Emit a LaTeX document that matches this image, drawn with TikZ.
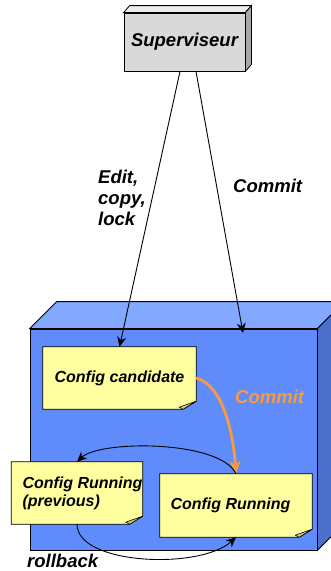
\documentclass[tikz,border=0pt]{standalone}
\usepackage{fontspec}
\setmainfont{Liberation Sans}
\usetikzlibrary{arrows.meta,backgrounds}
\definecolor{boxfront}{RGB}{96,139,250}
\definecolor{boxtop}{RGB}{130,168,255}
\definecolor{boxside}{RGB}{77,112,204}
\definecolor{notefill}{RGB}{255,255,160}
\definecolor{foldfill}{RGB}{214,206,130}
\definecolor{supfront}{RGB}{217,217,217}
\definecolor{suptop}{RGB}{236,236,236}
\definecolor{supside}{RGB}{168,168,168}
\definecolor{orangec}{RGB}{248,155,60}
\newcommand\drawnote[1]{%
  \filldraw[fill=notefill, line width=0.8pt] (#1.north west) -- (#1.north east) -- ([yshift=8pt]#1.south east) -- ([xshift=-13pt]#1.south east) -- (#1.south west) -- cycle;
  \filldraw[fill=foldfill, line width=0.6pt, line join=round] ([yshift=8pt]#1.south east) -- ([xshift=-13pt]#1.south east) -- ([xshift=-17pt,yshift=2pt]#1.south east) -- cycle;}
\begin{document}
\begin{tikzpicture}[x=1pt,y=-1pt,
  lbl/.style={font=\fontsize{18.5}{21}\selectfont\bfseries\itshape, inner sep=0pt},
  notetxt/.style={font=\fontsize{16}{18}\selectfont\bfseries\itshape, inner sep=0pt},
  arr/.style={-{Stealth[length=10pt,width=9pt]}, line width=0.9pt},
  orangearr/.style={-{Stealth[length=13pt,width=11pt]}, line width=2.8pt, draw=orangec},
  supbox/.style={lbl, minimum width=121pt, minimum height=58pt, fill=supfront, draw, line width=0.8pt},
  devbox/.style={minimum width=287pt, minimum height=221pt, fill=boxfront, draw, line width=0.8pt},
  notebox/.style={notetxt, minimum height=62pt}]
\useasboundingbox (0,0) rectangle (331,571);
% supervisor
\node[supbox] (sup) at (184.5,42) {Superviseur};
\filldraw[fill=suptop, line width=0.8pt] (sup.north west) -- ++(6,-7) -- ([shift={(6,-7)}]sup.north east) -- (sup.north east) -- cycle;
\filldraw[fill=supside, line width=0.8pt] (sup.north east) -- ++(6,-7) -- ([shift={(6,-7)}]sup.south east) -- (sup.south east) -- cycle;
% device box
\begin{scope}[on background layer]
\node[devbox] (dev) at (173.5,439.5) {};
\filldraw[fill=boxtop, line width=0.8pt] (dev.north west) -- ++(27,-27) -- ([shift={(27,-27)}]dev.north east) -- (dev.north east) -- cycle;
\filldraw[fill=boxside, line width=0.8pt] (dev.north east) -- ++(27,-27) -- ([shift={(27,-27)}]dev.south east) -- (dev.south east) -- cycle;
\end{scope}
% notes
\node[notebox, minimum width=153pt] (cand) at (119.5,378) {Config candidate};
\node[notebox, minimum width=130pt, align=left] (prev) at (77,493) {\hspace*{11pt}Config Running\\\hspace*{11pt}(previous)};
\node[notebox, minimum width=152pt, minimum height=63pt] (run) at (236,505.5) {\hspace*{-11pt}Config Running};
\begin{scope}[on background layer]
\drawnote{cand}
\drawnote{prev}
\drawnote{run}
\end{scope}
% labels
\node[lbl, anchor=north west, align=left] (edl) at (98,169.5) {Edit,\\copy,\\lock};
\node[lbl, anchor=base west] (cml) at (233,192) {Commit};
\node[lbl, anchor=base west, text=orangec] (ocm) at (235,403) {Commit};
\node[lbl, anchor=base west] (rbl) at (27,567) {rollback};
% connectors
\coordinate (cmt) at (243,333);
\draw[arr] ([xshift=-4.5pt]sup.south) -- (cand.north);
\draw[arr] ([xshift=11.5pt]sup.south) -- (cmt);
\draw[orangearr] (cand.east) .. controls (222,385) and (233,430) .. (run.north);
\draw[arr] (run.north) .. controls (220,440) and (100,440) .. (prev.north);
\draw[arr] (prev.south) .. controls (77,565) and (200,570) .. (run.south);
\end{tikzpicture}
\end{document}
